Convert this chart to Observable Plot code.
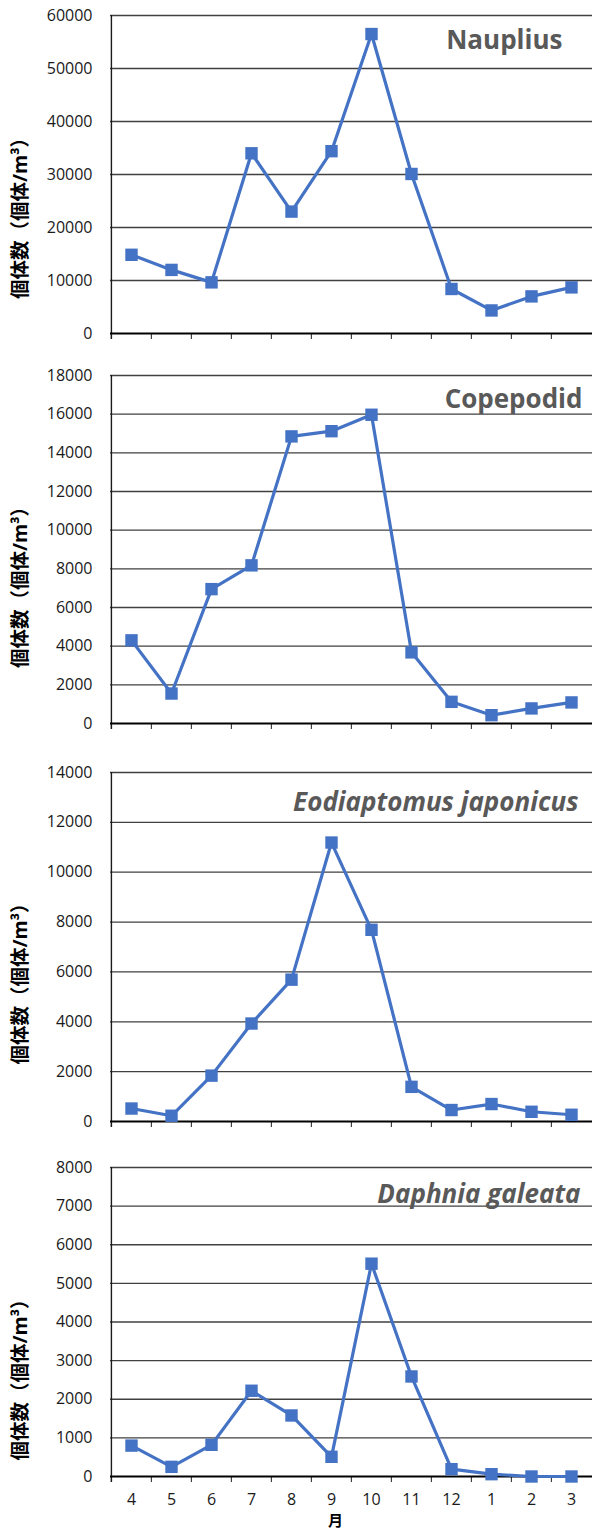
<!DOCTYPE html>
<html>
<head>
<meta charset="utf-8">
<script src="https://cdn.jsdelivr.net/npm/d3@7"></script>
<script src="https://cdn.jsdelivr.net/npm/@observablehq/plot@0.6"></script>
<style>
  html, body { margin: 0; padding: 0; background: #fff; }
  #chart svg { display: block; }
</style>
</head>
<body>
<div id="chart"></div>
<script>
// ---- data ----
const months = ["4", "5", "6", "7", "8", "9", "10", "11", "12", "1", "2", "3"];
const nauplius = [14850, 12000, 9650, 34000, 23000, 34400, 56500, 30100, 8400, 4350, 7000, 8700];
const copepodid = [4300, 1550, 6950, 8180, 14850, 15120, 15970, 3680, 1120, 430, 780, 1090];
const eodiaptomus = [520, 230, 1840, 3930, 5690, 11190, 7690, 1390, 460, 700, 390, 270];
const daphnia = [800, 250, 820, 2220, 1580, 510, 5510, 2590, 190, 60, 0, 0];
const seriesTitles = ["Nauplius", "Copepodid", "Eodiaptomus japonicus", "Daphnia galeata"];
const ticks1 = [0, 10000, 20000, 30000, 40000, 50000, 60000];
const ticks2 = [0, 2000, 4000, 6000, 8000, 10000, 12000, 14000, 16000, 18000];
const ticks3 = [0, 2000, 4000, 6000, 8000, 10000, 12000, 14000];
const ticks4 = [0, 1000, 2000, 3000, 4000, 5000, 6000, 7000, 8000];
const yLabel = "個体数（個体/m³）";
const xLabel = "月";

// ---- layout / style ----
const W = 592, ML = 110, MR = 0;
const FONT = "'Open Sans', 'Noto Sans CJK JP', sans-serif";
const BLUE = "#4472C4";
const panels = [
  {values: nauplius,    ticks: ticks1, title: 0, italic: false, height: 360, mt: 15, mb: 27, tdx: -30, tdy: 33, ylabDy: 39, showX: false},
  {values: copepodid,   ticks: ticks2, title: 1, italic: false, height: 395, mt: 15, mb: 32, tdx: -10, tdy: 32, ylabDy: 33, showX: false},
  {values: eodiaptomus, ticks: ticks3, title: 2, italic: true,  height: 395, mt: 17, mb: 29, tdx: -14, tdy: 38, ylabDy: 32, showX: false},
  {values: daphnia,     ticks: ticks4, title: 3, italic: true,  height: 380, mt: 17, mb: 54, tdx: -12, tdy: 35, ylabDy: 53, showX: true}
];

const step = (W - ML - MR) / months.length;
const root = document.getElementById("chart");

for (const p of panels) {
  const data = months.map((m, i) => ({month: m, value: p.values[i]}));
  const yMax = p.ticks[p.ticks.length - 1];
  const marks = [
    // gridlines
    Plot.ruleY(p.ticks.filter(t => t > 0), {stroke: "#404040", strokeWidth: 1.3}),
    // y tick labels
    Plot.axisY(p.ticks, {tickSize: 0, tickPadding: 18, fontSize: 16, fill: "#1a1a1a", label: null, tickFormat: d => String(d)}),
    // category boundary ticks
    Plot.ruleX(months, {x: d => d, y1: 0, y2: 0, insetBottom: -6, dx: -step / 2, stroke: "#404040", strokeWidth: 1.2}),
    // left axis line
    Plot.ruleX([months[0]], {x: d => d, insetBottom: -6, dx: -step / 2, stroke: "#1a1a1a", strokeWidth: 1.4}),
    // bottom axis line
    Plot.ruleY([0], {stroke: "#000", strokeWidth: 2}),
    // series
    Plot.line(data, {x: "month", y: "value", stroke: BLUE, strokeWidth: 3.2}),
    Plot.dot(data, {x: "month", y: "value", symbol: "square", r: 7, fill: BLUE, stroke: null}),
    // series title
    Plot.text([seriesTitles[p.title]], {
      frameAnchor: "top-right", dx: p.tdx, dy: p.tdy, textAnchor: "end", lineAnchor: "bottom",
      fontSize: 26, fontWeight: "bold", fontStyle: p.italic ? "italic" : "normal", fill: "#595959"
    }),
    // y axis title
    Plot.text([yLabel], {
      frameAnchor: "left", rotate: -90, dx: -90, dy: p.ylabDy, textAnchor: "middle",
      fontSize: 19.5, fontWeight: "bold", fill: "#000"
    })
  ];
  if (p.showX) {
    marks.push(Plot.axisX(months, {tickSize: 0, tickPadding: 17, fontSize: 16, fill: "#1a1a1a", label: null}));
    marks.push(Plot.text([xLabel], {
      frameAnchor: "bottom", dx: -16, dy: 49.5, fontSize: 15, fontWeight: "bold", fill: "#000",
      fontFamily: "'Noto Sans CJK JP', sans-serif"
    }));
  }
  const chart = Plot.plot({
    width: W,
    height: p.height,
    marginLeft: ML,
    marginRight: MR,
    marginTop: p.mt,
    marginBottom: p.mb,
    style: {fontFamily: FONT, fontSize: "16px", background: "#fff", overflow: "visible"},
    x: {type: "band", domain: months, padding: 0, axis: null},
    y: {domain: [0, yMax], axis: null},
    marks
  });
  root.appendChild(chart);
}
</script>
</body>
</html>
